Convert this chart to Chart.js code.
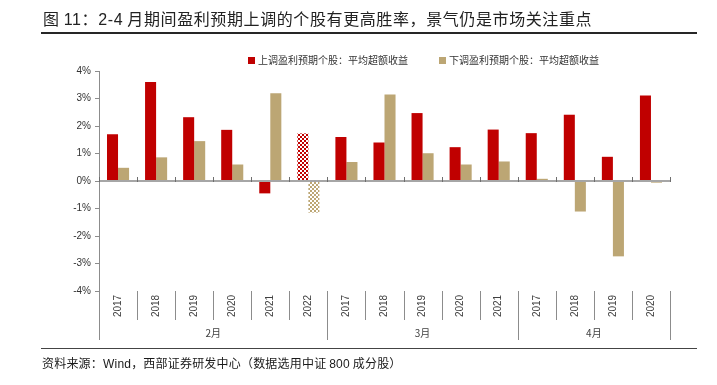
<!DOCTYPE html>
<html>
<head>
<meta charset="utf-8">
<script src="https://cdn.jsdelivr.net/npm/chart.js@4/dist/chart.umd.min.js"></script>
<style>
  html, body { margin:0; padding:0; background:#fff; }
  #wrap { position:relative; width:717px; height:385px; overflow:hidden; font-family:"Noto Sans CJK SC", "Liberation Sans", sans-serif; }
  #c { position:absolute; left:0; top:0; }
  .title { position:absolute; left:43px; top:7px; font-size:16px; line-height:22px; color:#222; white-space:nowrap; letter-spacing:0.6px; }
  .title .num { font-family:"Liberation Sans", Arial, sans-serif; }
  .rule { position:absolute; left:41px; width:656px; height:0; border-top:2px solid #262626; }
  .legend { position:absolute; top:52px; font-size:10px; line-height:16px; color:#333; white-space:nowrap; }
  .legend i { display:inline-block; width:7px; height:7px; margin-right:3px; vertical-align:0px; }
  .source { position:absolute; left:42px; top:354px; font-size:12px; line-height:18px; color:#1a1a1a; white-space:nowrap; letter-spacing:0.2px; }
  .source .num { font-family:"Liberation Sans", Arial, sans-serif; }
</style>
</head>
<body>
<div id="wrap">
  <canvas id="c" width="717" height="385"></canvas>
  <div class="title">图 <span class="num">11</span>：<span class="num">2-4</span> 月期间盈利预期上调的个股有更高胜率，景气仍是市场关注重点</div>
  <div class="rule" style="top:32px"></div>
  <div class="legend" style="left:248px"><i style="background:#C00000"></i>上调盈利预期个股：平均超额收益</div>
  <div class="legend" style="left:439px"><i style="background:#BCA674"></i>下调盈利预期个股：平均超额收益</div>
  <div class="rule" style="top:348px;border-top-width:1.5px;border-color:#444"></div>
  <div class="source">资料来源：<span class="num">Wind</span>，西部证券研发中心（数据选用中证 <span class="num">800</span> 成分股）</div>
</div>
<script>
// ---- data ----
const years  = ['2017','2018','2019','2020','2021','2022','2017','2018','2019','2020','2021','2017','2018','2019','2020'];
const months = ['2月','2月','2月','2月','2月','2月','3月','3月','3月','3月','3月','4月','4月','4月','4月'];
const upSeries   = [1.70, 3.60, 2.32, 1.86, -0.45, 1.73, 1.60, 1.40, 2.47, 1.23, 1.87, 1.74, 2.41, 0.88, 3.11];
const downSeries = [0.48, 0.86, 1.45, 0.60, 3.19, -1.15, 0.69, 3.15, 1.01, 0.60, 0.71, 0.08, -1.11, -2.74, -0.06];
const yTicks = [-4, -3, -2, -1, 0, 1, 2, 3, 4];
const patternIndex = 5; // 2月-2022 drawn hatched

const RED = '#C00000', TAN = '#BCA674';

function checker(color) {
  const c = document.createElement('canvas'); c.width = 4; c.height = 4;
  const g = c.getContext('2d');
  g.fillStyle = '#ffffff'; g.fillRect(0, 0, 4, 4);
  g.fillStyle = color; g.fillRect(0, 0, 2, 2); g.fillRect(2, 2, 2, 2);
  return g.createPattern(c, 'repeat');
}
const redPat = checker(RED), tanPat = checker(TAN);
const upColors = upSeries.map((_, i) => i === patternIndex ? redPat : RED);
const downColors = downSeries.map((_, i) => i === patternIndex ? tanPat : TAN);

const catLabels = years.map((y, i) => months[i] + y);

const axisPlugin = {
  id: 'catAxis',
  afterDatasetsDraw(chart) {
    const { ctx, chartArea, scales: { x, y } } = chart;
    const n = catLabels.length;
    const step = x.getPixelForValue(1) - x.getPixelForValue(0);
    const edge = i => x.getPixelForValue(0) - step / 2 + i * step;
    const y0 = y.getPixelForValue(0);
    ctx.save();
    // zero line
    ctx.strokeStyle = '#a6a6a6'; ctx.lineWidth = 2;
    ctx.beginPath(); ctx.moveTo(chartArea.left, y0); ctx.lineTo(chartArea.right, y0); ctx.stroke();
    // small tick marks on the zero line
    ctx.strokeStyle = '#6e6e6e'; ctx.lineWidth = 1;
    for (let i = 0; i <= n; i++) {
      const px = Math.round(edge(i)) + 0.5;
      ctx.beginPath(); ctx.moveTo(px, y0 - 4); ctx.lineTo(px, y0 + 1); ctx.stroke();
    }
    // bottom category separators
    const bottom = chartArea.bottom;
    ctx.strokeStyle = '#8c8c8c'; ctx.lineWidth = 1;
    for (let i = 0; i <= n; i++) {
      const isGroup = i === 0 || i === n || months[i] !== months[i - 1];
      const px = Math.round(edge(i)) + 0.5;
      ctx.beginPath(); ctx.moveTo(px, bottom); ctx.lineTo(px, bottom + (isGroup ? 49 : 29)); ctx.stroke();
    }
    // year labels (rotated)
    ctx.fillStyle = '#404040';
    ctx.font = '10px "Liberation Sans", Arial, sans-serif';
    ctx.textAlign = 'center'; ctx.textBaseline = 'middle';
    for (let i = 0; i < n; i++) {
      const cx = x.getPixelForValue(i);
      ctx.save();
      ctx.translate(cx, bottom + 15);
      ctx.rotate(-Math.PI / 2);
      ctx.fillText(years[i], 0, 0);
      ctx.restore();
    }
    // month group labels
    ctx.font = '10px "Noto Sans CJK SC", sans-serif';
    let start = 0;
    for (let i = 1; i <= n; i++) {
      if (i === n || months[i] !== months[start]) {
        const cx = (edge(start) + edge(i)) / 2;
        ctx.fillText(months[start], cx, bottom + 42);
        start = i;
      }
    }
    ctx.restore();
  }
};

new Chart(document.getElementById('c'), {
  type: 'bar',
  data: {
    labels: catLabels,
    datasets: [
      { label: '上调盈利预期个股：平均超额收益', data: upSeries, backgroundColor: upColors, borderWidth: 0 },
      { label: '下调盈利预期个股：平均超额收益', data: downSeries, backgroundColor: downColors, borderWidth: 0 }
    ]
  },
  options: {
    responsive: false,
    animation: false,
    events: [],
    layout: { padding: { top: 71, bottom: 94, left: 0, right: 47 } },
    datasets: { bar: { categoryPercentage: 0.58, barPercentage: 1.0 } },
    plugins: { legend: { display: false }, title: { display: false }, tooltip: { enabled: false } },
    scales: {
      x: { type: 'category', display: false, offset: true, grid: { display: false } },
      y: {
        min: -4, max: 4,
        afterBuildTicks(s) { s.ticks = yTicks.map(v => ({ value: v })); },
        afterFit(s) { s.width = 99; },
        ticks: {
          callback: v => v + '%',
          color: '#333',
          font: { family: '"Liberation Sans", Arial, sans-serif', size: 10 },
          padding: 4
        },
        grid: { display: true, drawOnChartArea: false, drawTicks: true, tickLength: 4, color: '#8c8c8c' },
        border: { display: true, color: '#8c8c8c', width: 1 }
      }
    }
  },
  plugins: [axisPlugin]
});
</script>
</body>
</html>
